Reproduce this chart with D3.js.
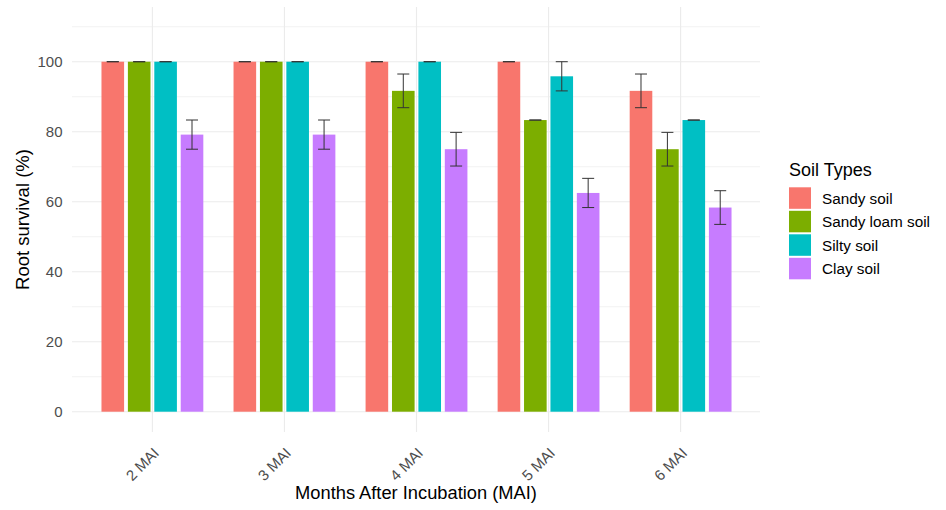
<!DOCTYPE html>
<html>
<head>
<meta charset="utf-8">
<script src="https://cdn.jsdelivr.net/npm/d3@7"></script>
<style>
  body { margin: 0; background: #fff; }
  svg { font-family: "Liberation Sans", Arial, sans-serif; }
  .grid line { stroke: #ebebeb; }
  .tick-label { fill: #4d4d4d; }
</style>
</head>
<body>
<svg class="chart" width="946" height="510"></svg>
<script>
var categories = ["2 MAI", "3 MAI", "4 MAI", "5 MAI", "6 MAI"];
var soilTypes = ["Sandy soil", "Sandy loam soil", "Silty soil", "Clay soil"];
var soilColors = ["#F8766D", "#7CAE00", "#00BFC4", "#C77CFF"];

// mean root survival (%) per month
var sandy     = [100, 100, 100, 100, 91.67];
var sandyLoam = [100, 100, 91.67, 83.33, 75];
var silty     = [100, 100, 100, 95.83, 83.33];
var clay      = [79.17, 79.17, 75, 62.5, 58.33];

// standard errors
var sandySe     = [0, 0, 0, 0, 4.81];
var sandyLoamSe = [0, 0, 4.81, 0, 4.81];
var siltySe     = [0, 0, 0, 4.17, 0];
var claySe      = [4.17, 4.17, 4.81, 4.17, 4.81];

var yTicks = [0, 20, 40, 60, 80, 100];
var yMinor = [10, 30, 50, 70, 90, 110];

(function() {
  var means = [sandy, sandyLoam, silty, clay];
  var ses = [sandySe, sandyLoamSe, siltySe, claySe];

  var data = [];
  categories.forEach(function(c, i) {
    soilTypes.forEach(function(s, j) {
      data.push({ cat: c, soil: s, value: means[j][i], se: ses[j][i] });
    });
  });

  var svg = d3.select(".chart");
  var panel = { left: 72, right: 760, top: 7, bottom: 432 };

  // discrete scale with ggplot-like 0.6 expansion on each side
  var xScale = d3.scalePoint()
    .domain(categories)
    .range([panel.left + 80.4, panel.right - 79.4]);
  var step = xScale.step();

  var dodge = d3.scaleBand()
    .domain(soilTypes)
    .range([-0.4 * step, 0.4 * step])
    .padding(0);
  var barW = dodge.bandwidth() - 3.8;

  var yScale = d3.scaleLinear()
    .domain([-5.8, 115.63])
    .range([panel.bottom, panel.top]);

  var color = d3.scaleOrdinal().domain(soilTypes).range(soilColors);

  var grid = svg.append("g").attr("class", "grid");

  grid.selectAll(".minor")
    .data(yMinor)
    .enter().append("line")
    .attr("x1", panel.left).attr("x2", panel.right)
    .attr("y1", function(d) { return yScale(d); })
    .attr("y2", function(d) { return yScale(d); })
    .attr("stroke-width", 0.6);

  grid.selectAll(".major")
    .data(yTicks)
    .enter().append("line")
    .attr("x1", panel.left).attr("x2", panel.right)
    .attr("y1", function(d) { return yScale(d); })
    .attr("y2", function(d) { return yScale(d); })
    .attr("stroke-width", 1.1);

  grid.selectAll(".vmajor")
    .data(categories)
    .enter().append("line")
    .attr("x1", function(d) { return xScale(d); })
    .attr("x2", function(d) { return xScale(d); })
    .attr("y1", panel.top).attr("y2", panel.bottom)
    .attr("stroke-width", 1.1);

  // bars
  svg.append("g").selectAll("rect")
    .data(data)
    .enter().append("rect")
    .attr("x", function(d) { return xScale(d.cat) + dodge(d.soil) + (dodge.bandwidth() - barW) / 2; })
    .attr("width", barW)
    .attr("y", function(d) { return yScale(d.value); })
    .attr("height", function(d) { return yScale(0) - yScale(d.value); })
    .attr("fill", function(d) { return color(d.soil); });

  // error bars
  var capW = 12;
  var eb = svg.append("g")
    .attr("stroke", "#333")
    .attr("stroke-width", 1)
    .selectAll("g")
    .data(data)
    .enter().append("g")
    .attr("transform", function(d) {
      return "translate(" + (xScale(d.cat) + dodge(d.soil) + dodge.bandwidth() / 2) + ",0)";
    });

  eb.append("line")
    .attr("x1", 0).attr("x2", 0)
    .attr("y1", function(d) { return yScale(d.value + d.se); })
    .attr("y2", function(d) { return yScale(d.value - d.se); });
  eb.append("line")
    .attr("x1", -capW / 2).attr("x2", capW / 2)
    .attr("y1", function(d) { return yScale(d.value + d.se); })
    .attr("y2", function(d) { return yScale(d.value + d.se); });
  eb.append("line")
    .attr("x1", -capW / 2).attr("x2", capW / 2)
    .attr("y1", function(d) { return yScale(d.value - d.se); })
    .attr("y2", function(d) { return yScale(d.value - d.se); });

  // y axis labels
  var yAxis = d3.axisLeft(yScale).tickValues(yTicks).tickSize(0).tickPadding(9.5);
  var yG = svg.append("g")
    .attr("transform", "translate(" + panel.left + ",0)")
    .call(yAxis);
  yG.select(".domain").remove();
  yG.selectAll("text")
    .attr("class", "tick-label")
    .style("font-size", "15px")
    .style("font-family", "Liberation Sans, Arial, sans-serif");

  // x axis labels, rotated
  var xAxis = d3.axisBottom(xScale).tickSize(0).tickPadding(0);
  var xG = svg.append("g")
    .attr("transform", "translate(0," + panel.bottom + ")")
    .call(xAxis);
  xG.select(".domain").remove();
  xG.selectAll("text")
    .attr("class", "tick-label")
    .attr("y", 0).attr("dy", 0)
    .attr("text-anchor", "end")
    .attr("transform", "translate(7,22) rotate(-45)")
    .style("font-size", "15px")
    .style("font-family", "Liberation Sans, Arial, sans-serif");

  // axis titles
  svg.append("text")
    .attr("x", (panel.left + panel.right) / 2)
    .attr("y", 499)
    .attr("text-anchor", "middle")
    .style("font-size", "18.3px")
    .text("Months After Incubation (MAI)");

  svg.append("text")
    .attr("transform", "translate(29," + (panel.top + panel.bottom) / 2 + ") rotate(-90)")
    .attr("text-anchor", "middle")
    .style("font-size", "18.5px")
    .text("Root survival (%)");

  // legend
  var legend = svg.append("g").attr("transform", "translate(789,0)");
  legend.append("text")
    .attr("x", 0).attr("y", 176)
    .style("font-size", "18px")
    .text("Soil Types");

  var item = legend.selectAll(".item")
    .data(soilTypes)
    .enter().append("g")
    .attr("transform", function(d, i) { return "translate(0," + (187.3 + i * 23.5) + ")"; });
  item.append("rect")
    .attr("width", 22).attr("height", 21.5)
    .attr("fill", function(d) { return color(d); });
  item.append("text")
    .attr("x", 33).attr("y", 11)
    .attr("dy", "0.36em")
    .style("font-size", "15.3px")
    .text(function(d) { return d; });
})();
</script>
</body>
</html>
